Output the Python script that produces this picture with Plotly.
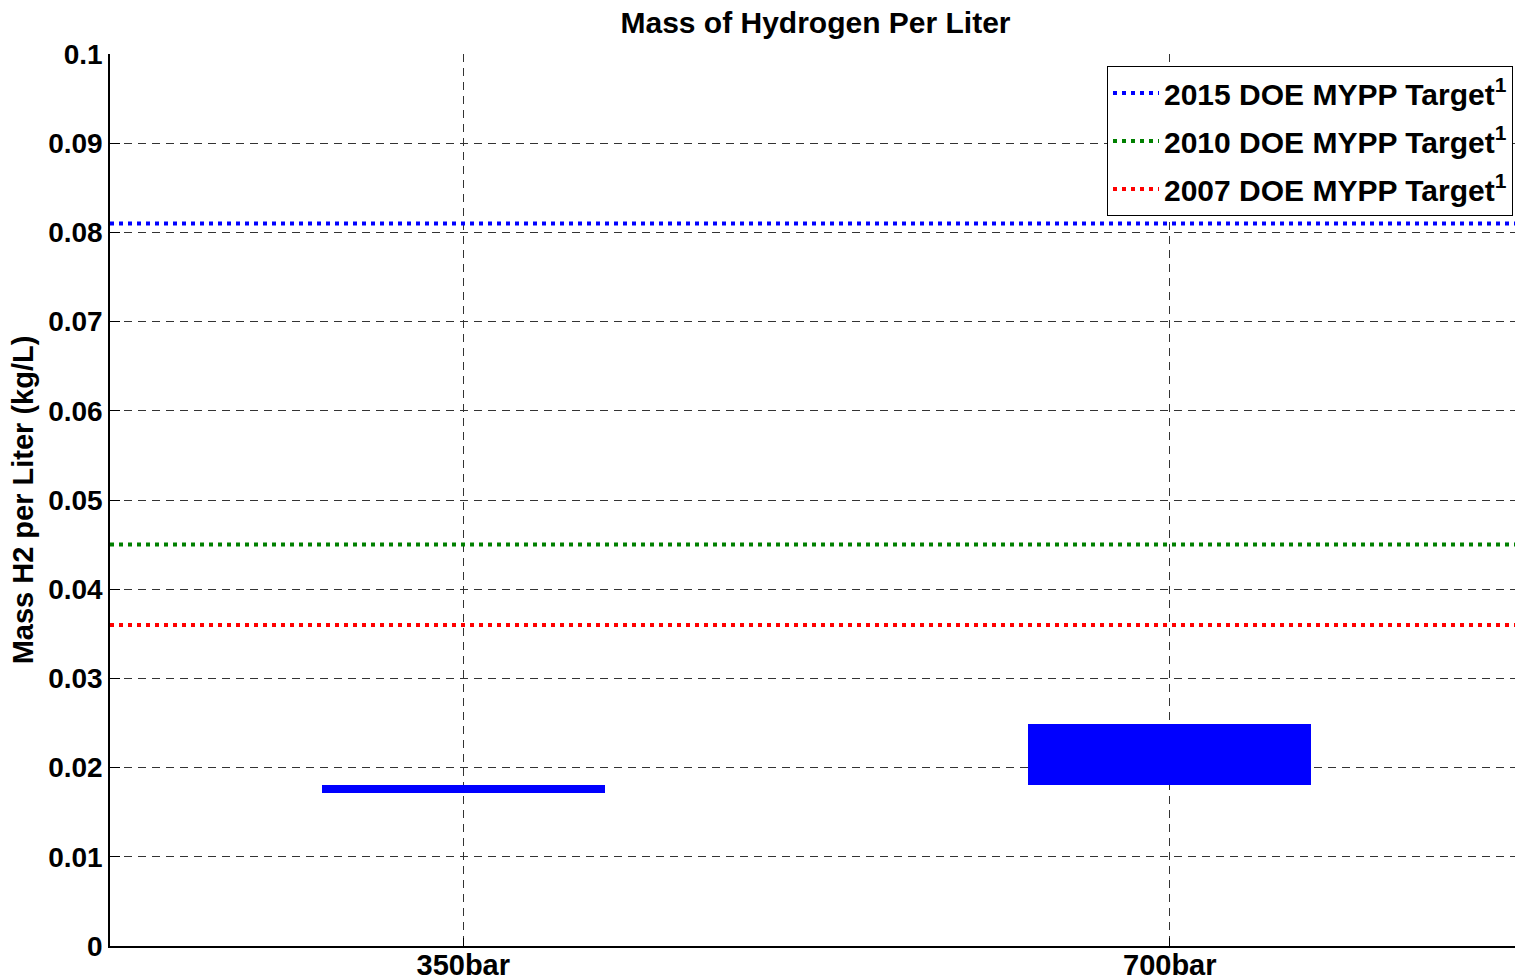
import plotly.graph_objects as go

# ---- data ----
categories = ["350bar", "700bar"]
cat_positions = [1, 2]
range_low = [0.0171, 0.0180]
range_high = [0.0181, 0.0249]

target_names = ["2015 DOE MYPP Target<sup>1</sup>",
                "2010 DOE MYPP Target<sup>1</sup>",
                "2007 DOE MYPP Target<sup>1</sup>"]
target_values = [0.081, 0.045, 0.036]
target_colors = ["#0000FF", "#008000", "#FF0000"]

y_ticks = [0, 0.01, 0.02, 0.03, 0.04, 0.05, 0.06, 0.07, 0.08, 0.09, 0.1]
y_tick_labels = ["0", "0.01", "0.02", "0.03", "0.04", "0.05", "0.06", "0.07", "0.08", "0.09", "0.1"]

FONT = "Liberation Sans"

fig = go.Figure()

fig.add_trace(go.Bar(
    x=cat_positions,
    y=[h - l for h, l in zip(range_high, range_low)],
    base=range_low,
    width=0.4,
    marker=dict(color="#0000FF", line=dict(width=0)),
    showlegend=False,
    hoverinfo="skip",
))

x_span = [0.5, 2.5]
for name, val, col in zip(target_names, target_values, target_colors):
    fig.add_trace(go.Scatter(
        x=x_span, y=[val, val], mode="lines", name=name,
        legendgroup=name,
        line=dict(color=col, width=4, dash="4px,5px"),
    ))

fig.update_layout(
    width=1515, height=980,
    margin=dict(l=110, r=0, t=54, b=34, autoexpand=False),
    plot_bgcolor="white", paper_bgcolor="white",
    font=dict(family=FONT, size=28, color="black", weight="bold"),
    title=dict(text="Mass of Hydrogen Per Liter", x=815.5 / 1515, xanchor="center",
               xref="container", y=1 - 22 / 980, yanchor="middle",
               font=dict(family=FONT, size=30, weight="bold")),
    showlegend=True,
    legend=dict(x=(1107 - 110) / 1405, xanchor="left", y=1 - 12 / 892, yanchor="top",
                bgcolor="white", bordercolor="black", borderwidth=1,
                font=dict(family=FONT, size=30, weight="bold"),
                tracegroupgap=6, itemwidth=46),
    bargap=0,
)

fig.update_xaxes(
    range=[0.5, 2.5 - 8 / 706.5], tickvals=cat_positions, ticktext=categories,
    showline=True, linecolor="black", linewidth=1.5, mirror=False,
    ticks="inside", ticklen=8, tickcolor="black",
    showgrid=True, gridcolor="#333333", gridwidth=1, griddash="8px,6px",
    zeroline=False, ticklabelstandoff=-8, automargin=False,
    tickfont=dict(family=FONT, size=29, weight="bold"),
)
fig.update_yaxes(
    range=[0, 0.1], tickvals=y_ticks, ticktext=y_tick_labels,
    showline=True, linecolor="black", linewidth=1.5, mirror=False,
    ticks="inside", ticklen=10, tickcolor="black",
    showgrid=True, gridcolor="#333333", gridwidth=1, griddash="8px,6px",
    zeroline=False, automargin=False,
    tickfont=dict(family=FONT, size=28, weight="bold"),
    title=dict(text="Mass H2 per Liter (kg/L)", standoff=6,
               font=dict(family=FONT, size=29, weight="bold")),
)

fig.write_html(
    "out.html",
    config={"displayModeBar": False},
    post_script="document.body.style.margin='0';document.body.style.overflow='hidden';",
)
